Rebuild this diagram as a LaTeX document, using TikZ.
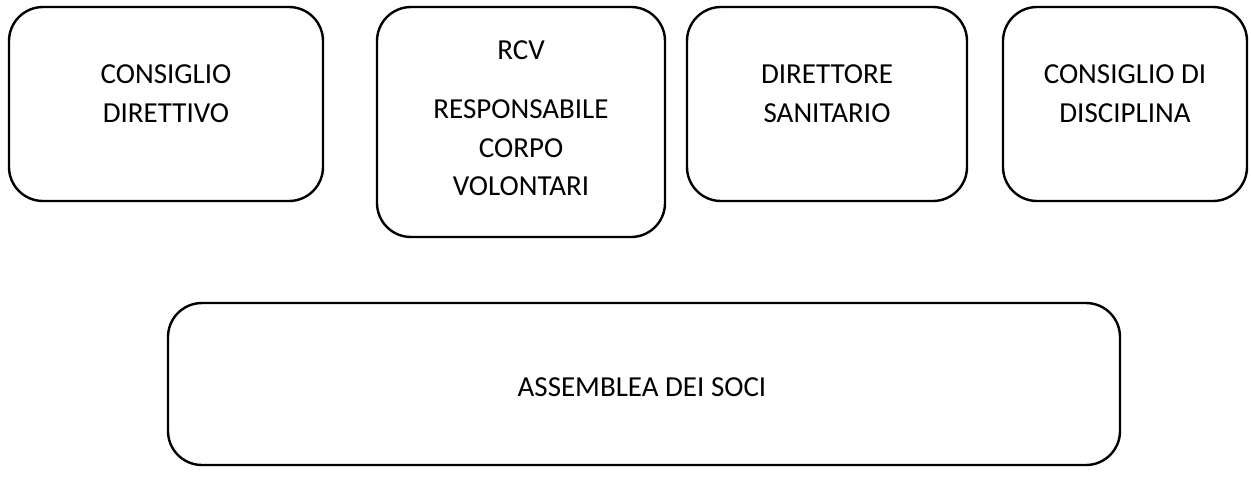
\documentclass[tikz,border=0pt]{standalone}
\usepackage{fontspec}
\setmainfont{Carlito}
\usepackage{tikz}

\begin{document}
\begin{tikzpicture}[x=0.5pt,y=-0.5pt,
    organo/.style={draw, line width=1.2pt, rounded corners=17pt, inner sep=0pt},
    voce/.style={align=center, inner sep=0pt, font=\fontsize{14.5pt}{19.25pt}\selectfont}]
    \useasboundingbox (0,0) rectangle (1251,494);
    % organi in alto
    \node[organo, minimum width=157pt, minimum height=97pt] (direttivo) at (166,104) {};
    \node[voce] (direttivo-t) at (166,93.5) {CONSIGLIO\\DIRETTIVO};
    \node[organo, minimum width=144pt, minimum height=115pt] (rcv) at (521,122) {};
    \node[voce] (rcv-t) at (521,118.5) {RCV\\[10.25pt]RESPONSABILE\\CORPO\\VOLONTARI};
    \node[organo, minimum width=140pt, minimum height=97pt] (sanitario) at (827,104) {};
    \node[voce] (sanitario-t) at (827,93.5) {DIRETTORE\\SANITARIO};
    \node[organo, minimum width=122pt, minimum height=97pt] (disciplina) at (1125,104) {};
    \node[voce] (disciplina-t) at (1125,93.5) {CONSIGLIO DI\\DISCIPLINA};
    % assemblea
    \node[organo, minimum width=476pt, minimum height=81pt] (assemblea) at (644,384) {};
    \node[voce] (assemblea-t) at (642,387) {ASSEMBLEA DEI SOCI};
\end{tikzpicture}
\end{document}
